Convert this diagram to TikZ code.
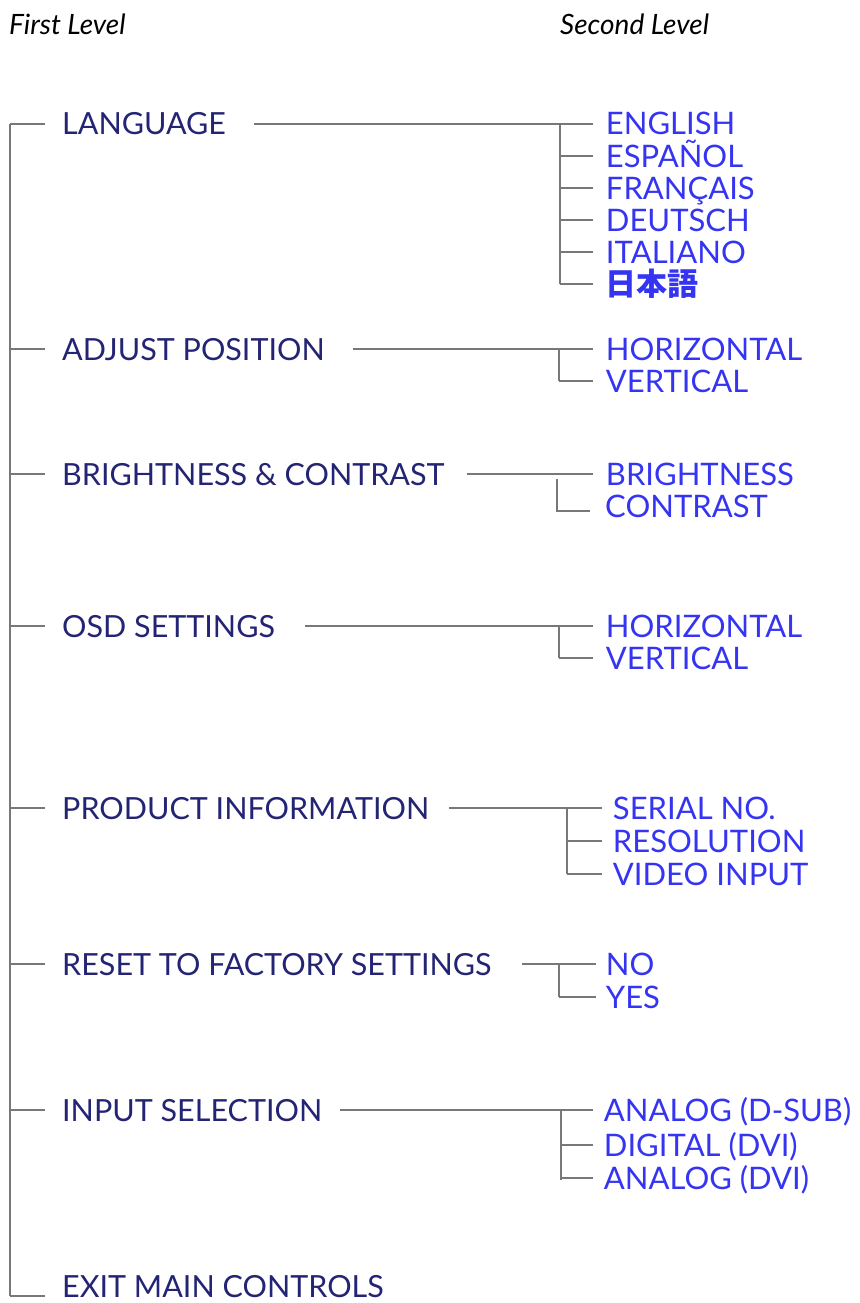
\documentclass[tikz,border=0pt]{standalone}
\usepackage{fontspec}
\setmainfont{Lato}
\newfontfamily\jpfont{Noto Sans CJK JP}
\usetikzlibrary{positioning}

\definecolor{menuTop}{RGB}{36,36,116}
\definecolor{menuSub}{RGB}{52,52,242}
\definecolor{menuLine}{RGB}{120,120,120}

\begin{document}
\begin{tikzpicture}[x=1pt,y=-1pt,
  head/.style={anchor=west,inner sep=0pt,text height=20pt,text depth=0pt,
    font=\fontsize{28}{28}\selectfont\itshape},
  top/.style={anchor=west,inner sep=0pt,text height=22pt,text depth=0pt,
    text=menuTop,font=\fontsize{30.5}{31}\selectfont},
  sub/.style={top,text=menuSub,font=\fontsize{31}{31}\selectfont},
  branch/.style={menuLine,line width=1.9pt}]
  \useasboundingbox (0,0) rectangle (859,1303);
  % Column headings
  \node[head] (hFirst) at (9,25) {First Level};
  \node[head] (hSecond) at (560,25) {Second Level};
  % Trunk of the first level
  \coordinate (rLang) at (10,124);
  \coordinate (rAdj) at (10,349);
  \coordinate (rBri) at (10,474);
  \coordinate (rOsd) at (10,626);
  \coordinate (rProd) at (10,808);
  \coordinate (rReset) at (10,964);
  \coordinate (rInput) at (10,1110);
  \coordinate (rExit) at (10,1296);
  \draw[branch] (rLang) -- (rExit);
  \node[top, right=52pt of rLang] (lang) {LANGUAGE};
  \node[top, right=52pt of rAdj] (adj) {ADJUST POSITION};
  \node[top, right=52pt of rBri] (bri) {BRIGHTNESS \& CONTRAST};
  \node[top, right=52pt of rOsd] (osd) {OSD SETTINGS};
  \node[top, right=52pt of rProd] (prod) {PRODUCT INFORMATION};
  \node[top, right=52pt of rReset] (reset) {RESET TO FACTORY SETTINGS};
  \node[top, right=52pt of rInput] (input) {INPUT SELECTION};
  \node[top] (exit) at (62,1286) {EXIT MAIN CONTROLS};
  \foreach \r/\n in {rLang/lang,rAdj/adj,rBri/bri,rOsd/osd,rProd/prod,rReset/reset,rInput/input,rExit/exit}
    \draw[branch] (\r) -- ([xshift=-17pt]\n.west |- \r);
  % LANGUAGE
  \coordinate (kLang) at (560,124);
  \draw[branch] ([xshift=28pt]lang.east) -- (kLang) -- (560,284);
  \foreach \y/\t [count=\i] in {124/ENGLISH,156/ESPAÑOL,188/FRANÇAIS,220/DEUTSCH,252/ITALIANO,284/{\jpfont\bfseries 日本語}}
    \draw[branch] (560,\y) -- (593,\y) node[sub, right=12pt] (lang-\i) {\t};
  % ADJUST POSITION
  \coordinate (kAdj) at (559,349);
  \draw[branch] ([xshift=28pt]adj.east) -- (kAdj) -- (559,381);
  \foreach \y/\t [count=\i] in {349/HORIZONTAL,381/VERTICAL}
    \draw[branch] (559,\y) -- (593,\y) node[sub, right=12pt] (adj-\i) {\t};
  % BRIGHTNESS & CONTRAST
  \draw[branch] ([xshift=22pt]bri.east) -- (593,474) node[sub, right=12pt] (bri-1) {BRIGHTNESS};
  \draw[branch] (557,479) -- (557,511) -- (590,511);
  \node[sub] (bri-2) at (605,506) {CONTRAST};
  % OSD SETTINGS
  \coordinate (kOsd) at (559,626);
  \draw[branch] ([xshift=30pt]osd.east) -- (kOsd) -- (559,658);
  \foreach \y/\t [count=\i] in {626/HORIZONTAL,658/VERTICAL}
    \draw[branch] (559,\y) -- (593,\y) node[sub, right=12pt] (osd-\i) {\t};
  % PRODUCT INFORMATION
  \coordinate (kProd) at (567,808);
  \draw[branch] ([xshift=20pt]prod.east) -- (kProd) -- (567,874);
  \foreach \y/\t [count=\i] in {808/SERIAL NO.,841/RESOLUTION,874/VIDEO INPUT}
    \draw[branch] (567,\y) -- (602,\y) node[sub, right=10pt] (prod-\i) {\t};
  % RESET TO FACTORY SETTINGS
  \coordinate (kReset) at (559,964);
  \draw[branch] ([xshift=30pt]reset.east) -- (kReset) -- (559,997);
  \foreach \y/\t [count=\i] in {964/NO,997/YES}
    \draw[branch] (559,\y) -- (596,\y) node[sub, right=9pt] (reset-\i) {\t};
  % INPUT SELECTION
  \coordinate (kInput) at (561,1110);
  \draw[branch] ([xshift=18pt]input.east) -- (kInput) -- (561,1180);
  \foreach \y/\t [count=\i] in {1110/ANALOG (D-SUB),1145/DIGITAL (DVI),1178/ANALOG (DVI)}
    \draw[branch] (561,\y) -- (593,\y) node[sub, right=10pt] (input-\i) {\t};
\end{tikzpicture}
\end{document}
